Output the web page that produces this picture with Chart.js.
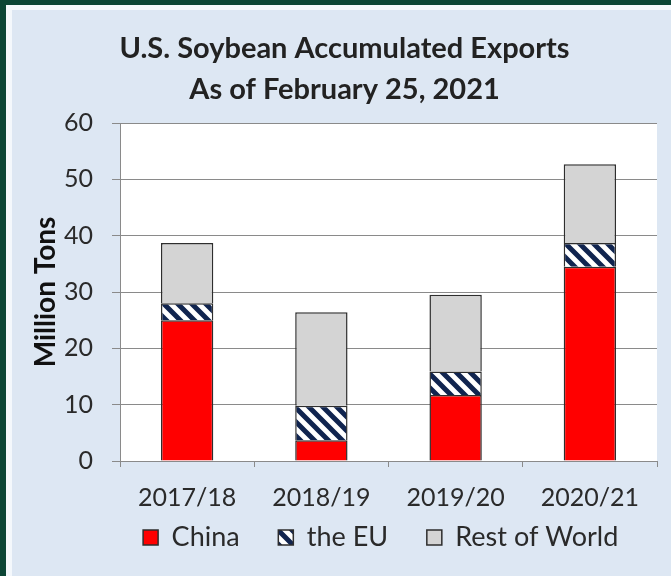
<!DOCTYPE html>
<html>
<head>
<meta charset="utf-8">
<script src="https://cdn.jsdelivr.net/npm/chart.js@4.4.1/dist/chart.umd.min.js"></script>
<style>
  html, body { margin: 0; padding: 0; }
  body { width: 671px; height: 576px; background: #0b4535; position: relative; overflow: hidden; }
  #frame { position: absolute; left: 6px; top: 5px; right: 0; bottom: 0; background: #f4f8fc; }
  #panel { position: absolute; left: 6px; top: 5px; right: 0; bottom: 0; background: #dde7f3; }
  #wrap { position: absolute; left: 0; top: 0; width: 671px; height: 576px; }
</style>
</head>
<body>
<div id="frame"><div id="panel"></div></div>
<div id="wrap"><canvas id="grafico" width="671" height="576"></canvas></div>
<script>
// Dados (milhões de toneladas)
const categorias = ['2017/18', '2018/19', '2019/20', '2020/21'];
const china = [25.0, 3.7, 11.7, 34.5];
const uniaoEuropeia = [3.0, 6.1, 4.2, 4.2];
const restoDoMundo = [10.7, 16.6, 13.6, 14.0];
const ticksY = [0, 10, 20, 30, 40, 50, 60];

const fonte = 'Lato, "Open Sans", sans-serif';
const nbsp = n => '\u00A0'.repeat(n);
// espaços extras para afastar os itens da legenda como no original
const espacosLegenda = [4, 4, 4];

// Padrão hachurado (the EU)
function criarHachura() {
    const s = 14;
    const c = document.createElement('canvas');
    c.width = s; c.height = s;
    const g = c.getContext('2d');
    g.fillStyle = '#ffffff';
    g.fillRect(0, 0, s, s);
    g.strokeStyle = '#10244f';
    g.lineWidth = 5;
    g.beginPath();
    g.moveTo(-s, 0); g.lineTo(s, 2 * s);
    g.moveTo(0, -s); g.lineTo(2 * s, s);
    g.moveTo(-s, -s); g.lineTo(2 * s, 2 * s);
    g.stroke();
    return g.createPattern(c, 'repeat');
}
const hachura = criarHachura();

// Fundo branco só na área do gráfico
const fundoArea = {
    id: 'fundoArea',
    beforeDraw(chart) {
        const { ctx, chartArea } = chart;
        ctx.save();
        ctx.fillStyle = '#ffffff';
        ctx.fillRect(chartArea.left, chartArea.top, chartArea.right - chartArea.left, chartArea.bottom - chartArea.top);
        ctx.restore();
    }
};

const ctx = document.getElementById('grafico').getContext('2d');
const meuGrafico = new Chart(ctx, {
    type: 'bar',
    data: {
        labels: categorias,
        datasets: [
            { label: 'China', data: china, backgroundColor: '#ff0000', borderColor: '#2e2e2e', borderWidth: 1.5 },
            { label: 'the EU', data: uniaoEuropeia, backgroundColor: hachura, borderColor: '#2e2e2e', borderWidth: 1.5 },
            { label: 'Rest of World', data: restoDoMundo, backgroundColor: '#d4d4d4', borderColor: '#2e2e2e', borderWidth: 1.5 }
        ]
    },
    options: {
        responsive: false,
        animation: false,
        devicePixelRatio: 1,
        layout: { padding: { left: 32, right: 14, top: 28, bottom: 15 } },
        datasets: { bar: { categoryPercentage: 1, barPercentage: 0.39 } },
        scales: {
            x: {
                stacked: true,
                afterFit(scale) { scale.height = 52; },
                grid: { display: true, drawOnChartArea: false, drawTicks: true, offset: true, tickLength: 6, color: '#8a8a8a' },
                border: { color: '#8a8a8a' },
                ticks: { color: '#2a2a2a', font: { family: fonte, size: 25 }, padding: 16 }
            },
            y: {
                stacked: true,
                min: 0,
                max: 60,
                afterFit(scale) { scale.width = 88; },
                afterBuildTicks(scale) { scale.ticks = ticksY.map(v => ({ value: v })); },
                grid: { color: '#8a8a8a', lineWidth: 1, tickLength: 8 },
                border: { color: '#8a8a8a' },
                ticks: { color: '#2a2a2a', font: { family: fonte, size: 25 }, padding: 19 },
                title: {
                    display: true, text: 'Million Tons', color: '#111',
                    font: { family: fonte, size: 28, weight: 'bold', lineHeight: 1 },
                    padding: { top: 0, bottom: 0 }
                }
            }
        },
        plugins: {
            title: {
                display: true,
                text: ['U.S. Soybean Accumulated Exports', 'As of February 25, 2021'],
                color: '#222',
                font: { family: fonte, size: 29, weight: 'bold', lineHeight: 1.414 },
                padding: { top: 0, bottom: 13 }
            },
            legend: {
                position: 'bottom',
                align: 'end',
                labels: {
                    color: '#2a2a2a',
                    font: { family: fonte, size: 27 },
                    boxWidth: 15,
                    boxHeight: 15,
                    padding: 11,
                    generateLabels(chart) {
                        const itens = Chart.defaults.plugins.legend.labels.generateLabels(chart);
                        itens.forEach((it, i) => {
                            it.text = it.text + nbsp(espacosLegenda[i]);
                            it.strokeStyle = '#2e2e2e';
                            it.lineWidth = 1.5;
                        });
                        return itens;
                    }
                }
            },
            tooltip: { enabled: false }
        }
    },
    plugins: [fundoArea]
});
</script>
</body>
</html>
